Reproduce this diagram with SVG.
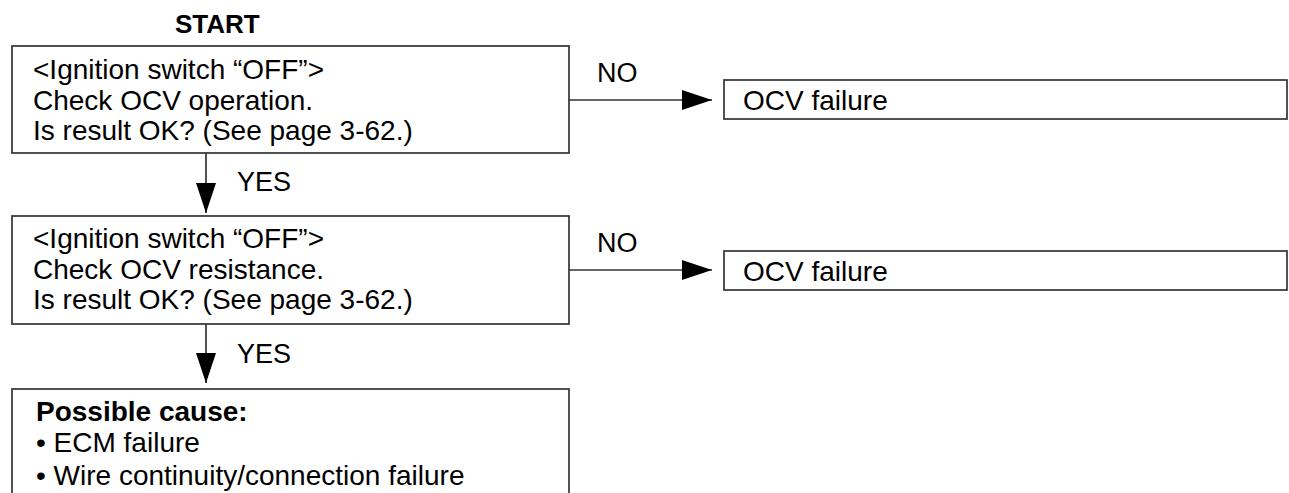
<svg xmlns="http://www.w3.org/2000/svg" width="1289" height="493" viewBox="0 0 1289 493">
<style>
.box{fill:#fff;stroke:#333;stroke-width:1.7}
.ln{stroke:#333;stroke-width:1.7;fill:none}
text{font-family:"Liberation Sans",Arial,Helvetica,sans-serif;fill:#000}
.t{font-size:28px}
.lbl{font-size:27px}
.b{font-weight:bold}
</style>
<defs>
<marker id="ah" markerUnits="userSpaceOnUse" markerWidth="31" markerHeight="21" refX="30" refY="10" orient="auto" viewBox="0 0 31 21">
<path d="M0,0 L30,10 L0,20 z" fill="#000"/>
</marker>
</defs>
<rect width="1289" height="493" fill="#fff"/>
<g id="start"><text class="b" x="175" y="33" font-size="26">START</text></g>
<g id="step1">
<rect class="box" x="12" y="46" width="557" height="107"/>
<text class="t" x="33" y="79">&lt;Ignition switch “OFF”&gt;</text>
<text class="t" x="33" y="109.5">Check OCV operation.</text>
<text class="t" x="33" y="140">Is result OK? (See page 3-62.)</text>
</g>
<g id="fail1">
<rect class="box" x="724" y="80" width="563" height="39"/>
<text class="t" x="743" y="110">OCV failure</text>
</g>
<g id="step2">
<rect class="box" x="12" y="216" width="557" height="108"/>
<text class="t" x="33" y="248">&lt;Ignition switch “OFF”&gt;</text>
<text class="t" x="33" y="278.5">Check OCV resistance.</text>
<text class="t" x="33" y="309">Is result OK? (See page 3-62.)</text>
</g>
<g id="fail2">
<rect class="box" x="724" y="251" width="563" height="39"/>
<text class="t" x="743" y="281">OCV failure</text>
</g>
<g id="cause">
<rect class="box" x="12" y="389" width="557" height="130"/>
<text class="t b" x="36" y="421">Possible cause:</text>
<text class="t" x="36" y="452">• ECM failure</text>
<text class="t" x="36" y="485">• Wire continuity/connection failure</text>
</g>
<g id="connectors">
<line class="ln" x1="206" y1="153" x2="206" y2="213" marker-end="url(#ah)"/>
<line class="ln" x1="206" y1="324" x2="206" y2="383" marker-end="url(#ah)"/>
<line class="ln" x1="569" y1="100" x2="712" y2="100" marker-end="url(#ah)"/>
<line class="ln" x1="569" y1="270" x2="712" y2="270" marker-end="url(#ah)"/>
<text class="lbl" x="237" y="191">YES</text>
<text class="lbl" x="237" y="363">YES</text>
<text class="lbl" x="597" y="82">NO</text>
<text class="lbl" x="597" y="252">NO</text>
</g>
</svg>
